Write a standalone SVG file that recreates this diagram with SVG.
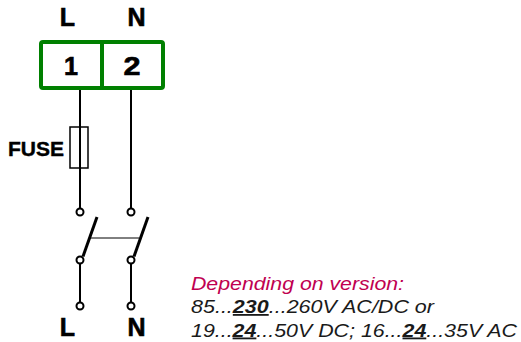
<svg xmlns="http://www.w3.org/2000/svg" width="521" height="342" viewBox="0 0 521 342">
<style>
.lbl{font-family:"Liberation Sans",Arial,sans-serif;font-weight:bold;font-size:25px;fill:#000;stroke:#000;stroke-width:0.6;text-anchor:middle}
.w{stroke:#000;stroke-width:2;fill:none}
.c{stroke:#000;stroke-width:2;fill:#fff}
.note{font-family:"Liberation Sans",Arial,sans-serif;font-style:italic;font-size:18px;fill:#1a1a1a}
</style>
<rect width="521" height="342" fill="#fff"/>
<g id="connectors">
<line class="w" x1="80" y1="88" x2="80" y2="208.5"/>
<line class="w" x1="131" y1="88" x2="131" y2="208.5"/>
<line class="w" x1="80" y1="263.5" x2="80" y2="302.5"/>
<line class="w" x1="131" y1="263.5" x2="131" y2="302.5"/>
<line stroke="#000" stroke-width="1" x1="90" y1="238" x2="139" y2="238"/>
</g>
<g id="terminal-block">
<rect x="41" y="42" width="122" height="46" rx="2" fill="#fff" stroke="#008000" stroke-width="4"/>
<line x1="102" y1="42" x2="102" y2="88" stroke="#008000" stroke-width="4"/>
<text class="lbl" x="71" y="75" textLength="14" lengthAdjust="spacingAndGlyphs">1</text>
<text class="lbl" x="132" y="75" textLength="17" lengthAdjust="spacingAndGlyphs">2</text>
</g>
<g id="top-labels">
<text class="lbl" x="67.5" y="26">L</text>
<text class="lbl" x="136.5" y="26">N</text>
</g>
<g id="fuse">
<rect x="70" y="127" width="18" height="41" fill="none" stroke="#000" stroke-width="1.5"/>
<text class="lbl" style="text-anchor:end;font-size:21px;stroke-width:0.4" x="64" y="156">FUSE</text>
</g>
<g id="switch">
<circle class="c" cx="80" cy="212" r="3.5"/>
<circle class="c" cx="131" cy="212" r="3.5"/>
<circle class="c" cx="80" cy="260" r="3.5"/>
<circle class="c" cx="131" cy="260" r="3.5"/>
<line stroke="#000" stroke-width="3" x1="83" y1="256.5" x2="97" y2="217"/>
<line stroke="#000" stroke-width="3" x1="134" y1="256.5" x2="148" y2="217"/>
</g>
<g id="bottom-terminals">
<circle class="c" cx="80" cy="306" r="3.5"/>
<circle class="c" cx="131" cy="306" r="3.5"/>
<text class="lbl" x="67.5" y="336">L</text>
<text class="lbl" x="136.5" y="336">N</text>
</g>
<g id="note">
<text class="note" x="191" y="289.5" style="fill:#c00050" textLength="213" lengthAdjust="spacingAndGlyphs">Depending on version:</text>
<text class="note" x="191" y="313" textLength="243" lengthAdjust="spacingAndGlyphs">85...<tspan font-weight="bold" text-decoration="underline">230</tspan>...260V AC/DC or</text>
<text class="note" x="191" y="336.5" textLength="326" lengthAdjust="spacingAndGlyphs">19...<tspan font-weight="bold" text-decoration="underline">24</tspan>...50V DC; 16...<tspan font-weight="bold" text-decoration="underline">24</tspan>...35V AC</text>
</g>
</svg>
